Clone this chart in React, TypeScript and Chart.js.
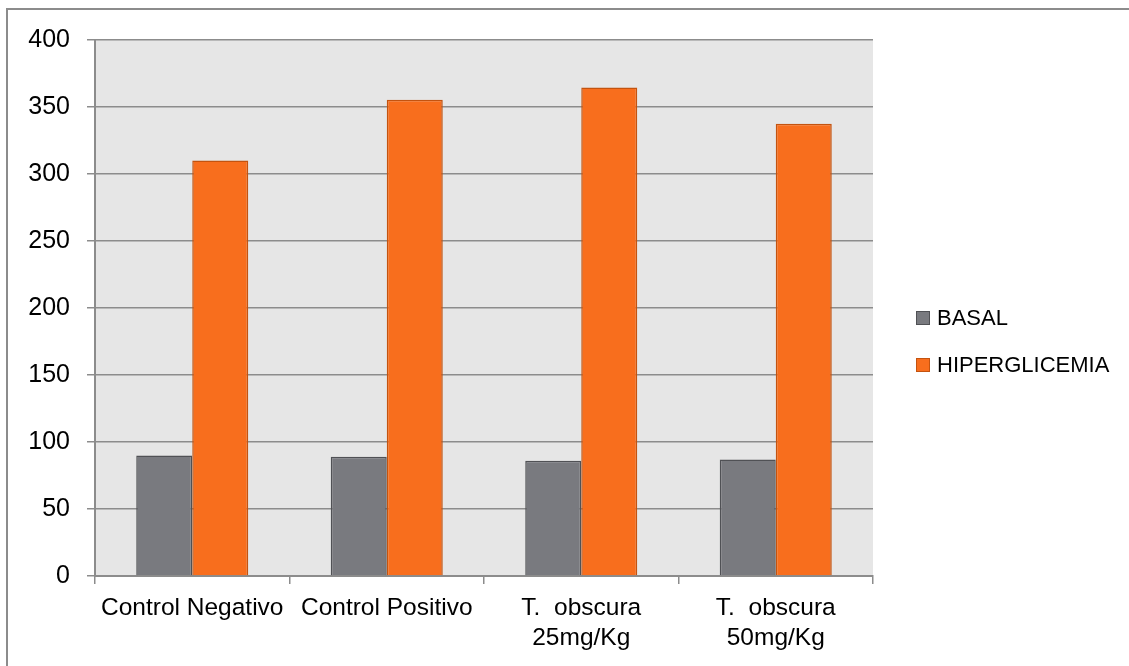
import React, { useEffect, useRef } from "react";
import { Chart, registerables } from "chart.js";

Chart.register(...registerables);

const categories: (string | string[])[] = [
  "Control Negativo",
  "Control Positivo",
  ["T.  obscura", "25mg/Kg"],
  ["T.  obscura", "50mg/Kg"],
];
const basal = [90, 89, 86, 87];
const hiperglicemia = [310, 355.5, 364.5, 337.5];
const seriesNames = ["BASAL", "HIPERGLICEMIA"];

const FONT = "'Liberation Sans', Arial, sans-serif";

// Grey plot background behind the bars
const plotBackground = {
  id: "plotBackground",
  beforeDraw(chart: Chart) {
    const { ctx, chartArea: a } = chart;
    ctx.save();
    ctx.fillStyle = "#e6e6e6";
    ctx.fillRect(a.left, a.top, a.right - a.left, a.bottom - a.top);
    ctx.restore();
  },
};

// Outer frame of the chart object (left and top edges visible)
const outerFrame = {
  id: "outerFrame",
  afterDraw(chart: Chart) {
    const { ctx, width, height } = chart;
    ctx.save();
    ctx.strokeStyle = "#8c8c8c";
    ctx.lineWidth = 2;
    ctx.beginPath();
    ctx.moveTo(7, height + 2);
    ctx.lineTo(7, 9);
    ctx.lineTo(width + 2, 9);
    ctx.stroke();
    ctx.restore();
  },
};

// Legend drawn to the right of the plot
const sideLegend = {
  id: "sideLegend",
  afterDraw(chart: Chart) {
    const { ctx, chartArea } = chart;
    const x = chartArea.right + 43;
    const startY = 318;
    const gap = 47;
    ctx.save();
    chart.data.datasets.forEach((ds: any, i: number) => {
      const cy = startY + i * gap;
      ctx.fillStyle = ds.backgroundColor;
      ctx.strokeStyle = ds.borderColor;
      ctx.lineWidth = 1;
      ctx.fillRect(x, cy - 7, 14, 14);
      ctx.strokeRect(x + 0.5, cy - 6.5, 13, 13);
      ctx.fillStyle = "#000";
      ctx.font = `22px ${FONT}`;
      ctx.textBaseline = "middle";
      ctx.textAlign = "left";
      ctx.fillText(ds.label, x + 21, cy + 1);
    });
    ctx.restore();
  },
};

export default function App() {
  const canvasRef = useRef<HTMLCanvasElement | null>(null);

  useEffect(() => {
    if (!canvasRef.current) return;
    const chart = new Chart(canvasRef.current, {
      type: "bar",
      data: {
        labels: categories,
        datasets: [
          {
            label: seriesNames[0],
            data: basal,
            backgroundColor: "#797a7f",
            borderColor: "#505155",
            borderWidth: 1.5,
          },
          {
            label: seriesNames[1],
            data: hiperglicemia,
            backgroundColor: "#f86e1d",
            borderColor: "#c4530f",
            borderWidth: 1.5,
          },
        ],
      },
      options: {
        responsive: false,
        animation: false,
        layout: { padding: { left: 0, top: 40, right: 256, bottom: 0 } },
        datasets: {
          bar: { categoryPercentage: 0.576, barPercentage: 1 },
        },
        plugins: {
          legend: { display: false },
          tooltip: { enabled: false },
        },
        scales: {
          x: {
            grid: {
              offset: true,
              drawOnChartArea: false,
              drawTicks: true,
              tickLength: 8,
              color: "#8c8c8c",
              lineWidth: 1.5,
            },
            border: { color: "#8c8c8c", width: 2 },
            ticks: {
              color: "#000",
              padding: 9,
              maxRotation: 0,
              autoSkip: false,
              font: { family: FONT, size: 24.5, lineHeight: 1.22 },
            },
            afterFit(scale: any) {
              scale.height = 90;
            },
          },
          y: {
            min: 0,
            max: 400,
            ticks: {
              stepSize: 50,
              color: "#000",
              padding: 17,
              font: { family: FONT, size: 25 },
            },
            grid: {
              color: "#8c8c8c",
              lineWidth: 1.5,
              tickLength: 8,
            },
            border: { color: "#8c8c8c", width: 2 },
            afterFit(scale: any) {
              scale.width = 95;
            },
          },
        },
      },
      plugins: [plotBackground, outerFrame, sideLegend],
    });
    return () => chart.destroy();
  }, []);

  return (
    <div
      style={{
        position: "fixed",
        left: 0,
        top: 0,
        width: 1129,
        height: 666,
        overflow: "hidden",
        background: "#fff",
      }}
    >
      <canvas ref={canvasRef} width={1129} height={666} style={{ display: "block" }} />
    </div>
  );
}
